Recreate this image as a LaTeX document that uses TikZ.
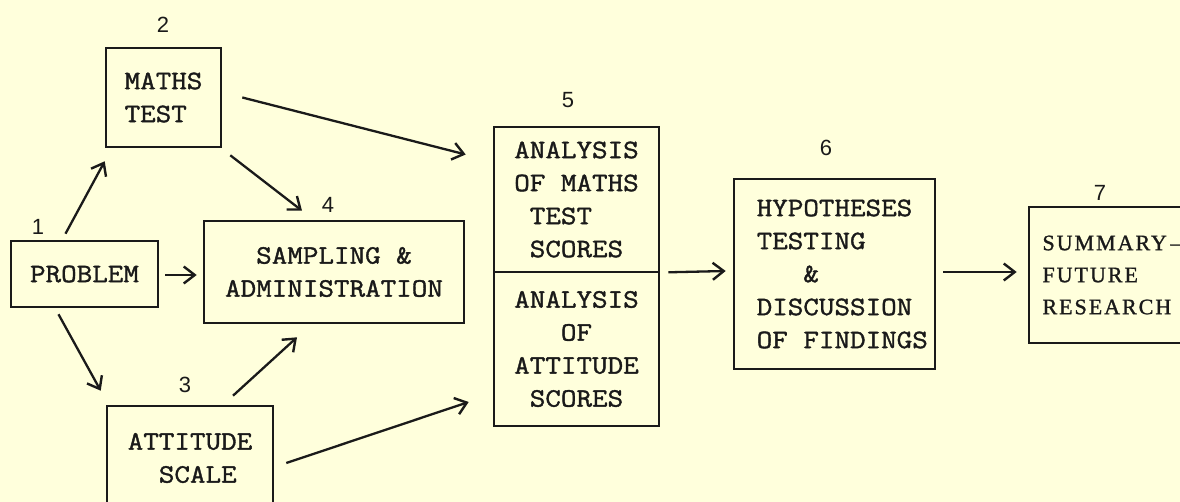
\documentclass[tikz,border=0pt]{standalone}
\usepackage{fontspec}
\setmonofont[FakeStretch=1.14,FakeBold=1.4]{Latin Modern Mono}
\newfontfamily\numfont{Liberation Sans}
\newfontfamily\sumfont[LetterSpace=9,FakeBold=1.2]{Liberation Serif}
\usetikzlibrary{arrows.meta,calc}
\definecolor{paper}{HTML}{FFFFDC}
\definecolor{ink}{HTML}{1A1A1A}
\newcommand{\indentby}[1]{\hphantom{#1}}

\begin{document}
\begin{tikzpicture}[x=1pt,y=-1pt,
  box/.style={draw=ink, line width=2.6pt, inner sep=0pt, align=left, text=ink,
    font=\ttfamily\fontsize{26.5}{33}\selectfont},
  ctrbox/.style={box, align=center},
  sumbox/.style={box, font=\sumfont\fontsize{22}{32}\selectfont},
  num/.style={text=ink, inner sep=0pt, font=\numfont\fontsize{22}{26}\selectfont},
  arr/.style={draw=ink, line width=2.3pt,
    -{Straight Barb[length=11pt,width=17pt,line width=2.4pt]}}]

% paper
\fill[paper] (0,0) rectangle (1180,502);
\useasboundingbox (0,0) rectangle (1180,502);
\clip (0,0) rectangle (1180,502);

% boxes
\node[box, minimum width=147pt, minimum height=66pt] (prob) at (84.5,274) {PROBLEM};
\node[box, minimum width=115pt, minimum height=99pt] (maths) at (163.5,97.5) {MATHS\\TEST};
\node[ctrbox, minimum width=260pt, minimum height=102pt] (samp) at (334,272) {SAMPLING \&\\ADMINISTRATION};
\node[box, minimum width=166pt, minimum height=104pt] (att) at (190,458) {ATTITUDE\\\indentby{XX}SCALE};
\node[box, minimum width=165pt, minimum height=145pt] (antop) at (576.5,199.5)
  {ANALYSIS\\OF MATHS\\\indentby{X}TEST\\\indentby{X}SCORES};
\node[box, minimum width=165pt, minimum height=154pt] (anbot) at (576.5,349)
  {ANALYSIS\\\indentby{XXX}OF\\ATTITUDE\\\indentby{X}SCORES};
\node[box, minimum width=201pt, minimum height=190pt] (hyp) at (834.5,274)
  {\indentby{M}HYPOTHESES\\\indentby{M}TESTING\\\indentby{M}\indentby{XXX}\&\\\indentby{M}DISCUSSION\\\indentby{M}OF FINDINGS};
\node[sumbox, minimum width=166pt, minimum height=136pt] (sum) at (1112,275)
  {SUMMARY\,\textendash\\FUTURE\\RESEARCH};

% step numbers
\node[num] (n1) at (38,227) {1};
\node[num] (n2) at (163,25) {2};
\node[num] (n3) at (185,385) {3};
\node[num] (n4) at (328,205) {4};
\node[num] (n5) at (568,100) {5};
\node[num] (n6) at (826,148) {6};
\node[num] (n7) at (1100,193) {7};

% connectors
\draw[arr] ($(prob.north)+(-19,-6)$) -- ($(maths.south west)+(0,13)$);
\draw[arr] ($(prob.south)+(-26,6)$) -- ($(att.north west)+(-5,-14)$);
\draw[arr] ($(prob.east)+(6,1)$) -- ($(samp.west)+(-6,3)$);
\draw[arr] ($(maths.south east)+(8,7)$) -- ($(samp.north)+(-32,-9)$);
\draw[arr] ($(att.north)+(43,-9)$) -- ($(samp.south)+(-37,13)$);
\draw[arr] ($(maths.east)+(20,0)$) -- ($(antop.west)+(-27,-45)$);
\draw[arr] ($(att.east)+(12,5)$) -- ($(anbot.west)+(-24,53)$);
\draw[arr] ($(antop.south east)+(8,-1)$) -- ($(hyp.west)+(-7,-3)$);
\draw[arr] ($(hyp.east)+(7,-2)$) -- ($(sum.west)+(-11,-3)$);
\end{tikzpicture}
\end{document}
